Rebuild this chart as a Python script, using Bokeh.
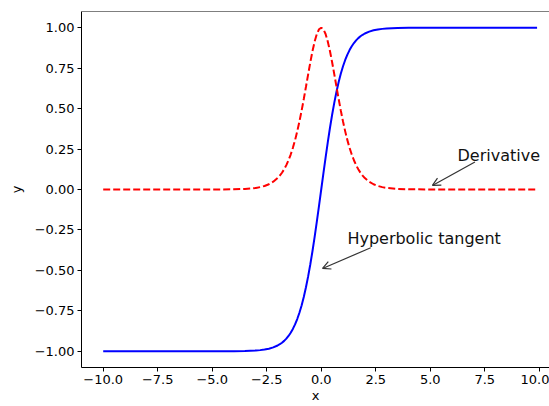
from bokeh.plotting import figure
from bokeh.models import FixedTicker, Span, Arrow, OpenHead
from bokeh.core.properties import value
from bokeh.embed import file_html
from bokeh.resources import INLINE

# ---- data ----
x_vals = [-10, -9, -8, -7, -6, -5, -4, -3.5, -3, -2.8, -2.6, -2.4, -2.2, -2.0,
          -1.9, -1.8, -1.7, -1.6, -1.5, -1.4, -1.3, -1.2, -1.1, -1.0,
          -0.9, -0.8, -0.7, -0.6, -0.5, -0.4, -0.3, -0.2, -0.1, 0.0,
          0.1, 0.2, 0.3, 0.4, 0.5, 0.6, 0.7, 0.8, 0.9, 1.0,
          1.1, 1.2, 1.3, 1.4, 1.5, 1.6, 1.7, 1.8, 1.9, 2.0,
          2.2, 2.4, 2.6, 2.8, 3, 3.5, 4, 5, 6, 7, 8, 9, 9.9]

tanh_vals = [-1.0, -1.0, -1.0, -1.0, -1.0, -0.9999, -0.9993, -0.9982, -0.9951, -0.9926, -0.9890, -0.9837, -0.9757, -0.9640,
             -0.9562, -0.9468, -0.9354, -0.9217, -0.9051, -0.8854, -0.8617, -0.8337, -0.8005, -0.7616,
             -0.7163, -0.6640, -0.6044, -0.5370, -0.4621, -0.3799, -0.2913, -0.1974, -0.0997, 0.0,
             0.0997, 0.1974, 0.2913, 0.3799, 0.4621, 0.5370, 0.6044, 0.6640, 0.7163, 0.7616,
             0.8005, 0.8337, 0.8617, 0.8854, 0.9051, 0.9217, 0.9354, 0.9468, 0.9562, 0.9640,
             0.9757, 0.9837, 0.9890, 0.9926, 0.9951, 0.9982, 0.9993, 0.9999, 1.0, 1.0, 1.0, 1.0, 1.0]

deriv_vals = [0.0, 0.0, 0.0, 0.0, 0.0, 0.0002, 0.0013, 0.0036, 0.0099, 0.0147, 0.0219, 0.0324, 0.0480, 0.0707,
              0.0857, 0.1035, 0.1250, 0.1505, 0.1807, 0.2161, 0.2574, 0.3050, 0.3592, 0.4200,
              0.4869, 0.5591, 0.6347, 0.7116, 0.7864, 0.8556, 0.9151, 0.9610, 0.9901, 1.0,
              0.9901, 0.9610, 0.9151, 0.8556, 0.7864, 0.7116, 0.6347, 0.5591, 0.4869, 0.4200,
              0.3592, 0.3050, 0.2574, 0.2161, 0.1807, 0.1505, 0.1250, 0.1035, 0.0857, 0.0707,
              0.0480, 0.0324, 0.0219, 0.0147, 0.0099, 0.0036, 0.0013, 0.0002, 0.0, 0.0, 0.0, 0.0, 0.0]

x_ticks = [-10.0, -7.5, -5.0, -2.5, 0.0, 2.5, 5.0, 7.5, 10.0]
x_tick_labels = ["\u221210.0", "\u22127.5", "\u22125.0", "\u22122.5", "0.0", "2.5", "5.0", "7.5", "10.0"]
y_ticks = [-1.0, -0.75, -0.5, -0.25, 0.0, 0.25, 0.5, 0.75, 1.0]
y_tick_labels = ["\u22121.00", "\u22120.75", "\u22120.50", "\u22120.25", "0.00", "0.25", "0.50", "0.75", "1.00"]

FONT = "DejaVu Sans"

p = figure(width=549, height=406, output_backend="svg", toolbar_location=None,
           x_range=(-10.995, 10.47), y_range=(-1.1, 1.1),
           min_border_left=81, min_border_right=0, min_border_top=11, min_border_bottom=39)
p.background_fill_color = "white"
p.border_fill_color = "white"
p.outline_line_color = None
p.grid.visible = False

for ax in (p.xaxis[0], p.yaxis[0]):
    ax.axis_line_color = "black"
    ax.axis_line_width = 1
    ax.major_tick_line_color = "black"
    ax.major_tick_in = 0
    ax.major_tick_out = 4
    ax.minor_tick_line_color = None
    ax.major_label_text_font = FONT
    ax.major_label_text_font_size = "13px"
    ax.major_label_text_color = "black"
    ax.axis_label_text_font = FONT
    ax.axis_label_text_font_size = "13px"
    ax.axis_label_text_font_style = "normal"
    ax.axis_label_text_color = "black"
    ax.major_label_standoff = 3

p.xaxis.ticker = FixedTicker(ticks=x_ticks)
p.xaxis.major_label_overrides = {t: l for t, l in zip(x_ticks, x_tick_labels)}
p.yaxis.ticker = FixedTicker(ticks=y_ticks)
p.yaxis.major_label_overrides = {t: l for t, l in zip(y_ticks, y_tick_labels)}
p.xaxis.axis_label = "x"
p.yaxis.axis_label = "y"
p.xaxis.axis_label_standoff = 1
p.yaxis.axis_label_standoff = 8

# top spine
p.add_layout(Span(location=1.1, dimension="width", line_color="black", line_width=1))

p.line(x_vals, tanh_vals, line_color="blue", line_width=2)
p.line(x_vals, deriv_vals, line_color="red", line_width=2, line_dash="7 3")

# annotations
p.text(x=[6.25], y=[0.208], text=["Derivative"], text_font=value(FONT),
       text_font_size="16px", text_color="#111111", text_align="left", text_baseline="alphabetic")
p.text(x=[1.2], y=[-0.30], text=["Hyperbolic tangent"], text_font=value(FONT),
       text_font_size="16px", text_color="#111111", text_align="left", text_baseline="alphabetic")

p.add_layout(Arrow(x_start=7.05, y_start=0.17, x_end=5.1, y_end=0.025,
                   line_color="#333333", line_width=1.2,
                   end=OpenHead(size=8, line_color="#333333", line_width=1.2)))
p.add_layout(Arrow(x_start=2.27, y_start=-0.36, x_end=0.06, y_end=-0.488,
                   line_color="#333333", line_width=1.2,
                   end=OpenHead(size=8, line_color="#333333", line_width=1.2)))

open("out.html", "w").write(file_html(p, INLINE))
